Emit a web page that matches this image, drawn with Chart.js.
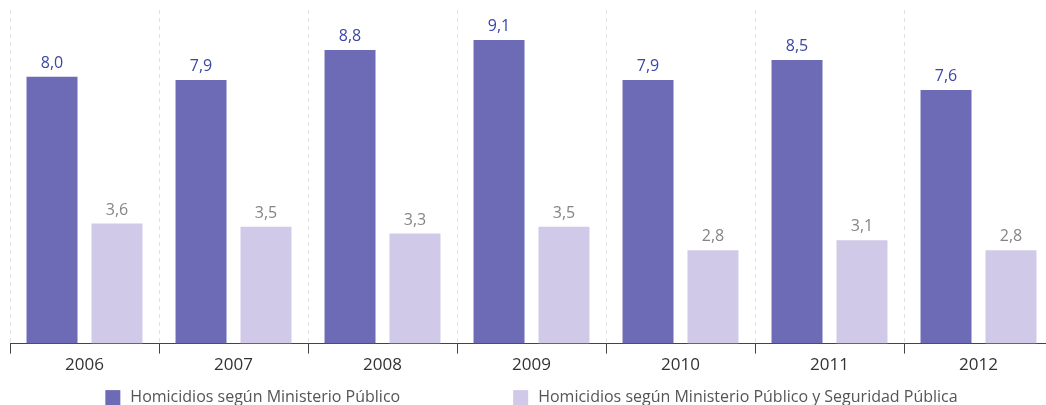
<!DOCTYPE html>
<html><head><meta charset="utf-8">
<script src="https://cdn.jsdelivr.net/npm/chart.js@4"></script>
<style>
html,body{margin:0;padding:0;overflow:hidden;background:#fff;}
#wrap{width:1063px;height:416px;position:relative;}
</style></head>
<body><div id="wrap"><canvas id="c"></canvas></div>
<script>
const categories = ['2006','2007','2008','2009','2010','2011','2012'];
const seriesMP = [8.0, 7.9, 8.8, 9.1, 7.9, 8.5, 7.6];
const seriesMPSP = [3.6, 3.5, 3.3, 3.5, 2.8, 3.1, 2.8];
const seriesNames = ['Homicidios según Ministerio Público', 'Homicidios según Ministerio Público y Seguridad Pública'];
const FONT = '"Open Sans", sans-serif';

const valueLabels = {
  id: 'valueLabels',
  afterDatasetsDraw(chart) {
    const ctx = chart.ctx;
    const colors = ['#3b46a6', '#858585'];
    chart.data.datasets.forEach((ds, i) => {
      const meta = chart.getDatasetMeta(i);
      meta.data.forEach((bar, j) => {
        ctx.save();
        ctx.font = '16px ' + FONT;
        ctx.fillStyle = colors[i];
        ctx.textAlign = 'center';
        ctx.textBaseline = 'alphabetic';
        ctx.fillText(ds.data[j].toFixed(1).replace('.', ','), bar.x, bar.y - 9);
        ctx.restore();
      });
    });
  }
};

const bottomLegend = {
  id: 'bottomLegend',
  afterDraw(chart) {
    const ctx = chart.ctx;
    ctx.save();
    ctx.font = '16px ' + FONT;
    const box = 15, gapBox = 10, gapItem = 113;
    const widths = chart.data.datasets.map(ds => box + gapBox + ctx.measureText(ds.label).width);
    const total = widths.reduce((a, b) => a + b, 0) + gapItem * (widths.length - 1);
    let x = chart.width / 2 - total / 2;
    const cy = chart.chartArea.bottom + 54;
    chart.data.datasets.forEach((ds, i) => {
      ctx.fillStyle = ds.backgroundColor;
      ctx.fillRect(x, cy - box / 2, box, box);
      ctx.fillStyle = '#555';
      ctx.textAlign = 'left';
      ctx.textBaseline = 'middle';
      ctx.fillText(ds.label, x + box + gapBox, cy);
      x += widths[i] + gapItem;
    });
    ctx.restore();
  }
};

new Chart(document.getElementById('c'), {
  type: 'bar',
  data: {
    labels: categories,
    datasets: [
      { label: seriesNames[0], data: seriesMP, backgroundColor: '#6e6bb6', categoryPercentage: 0.872, barPercentage: 0.785 },
      { label: seriesNames[1], data: seriesMPSP, backgroundColor: '#d0cae8', categoryPercentage: 0.872, barPercentage: 0.785 }
    ]
  },
  options: {
    responsive: true,
    maintainAspectRatio: false,
    animation: false,
    layout: { padding: { left: 10, right: 10, top: 10, bottom: 40 } },
    plugins: {
      tooltip: { enabled: false },
      legend: { display: false }
    },
    scales: {
      x: {
        grid: { offset: true, color: '#e2e2e2', drawTicks: true, tickLength: 10, tickColor: '#444', tickWidth: 1 },
        border: { display: true, color: '#444', width: 1, dash: [4, 4] },
        ticks: { color: '#333', font: { family: FONT, size: 17 }, padding: 1 }
      },
      y: { display: false, min: 0, max: 10 }
    }
  },
  plugins: [valueLabels, bottomLegend]
});
</script></body></html>
